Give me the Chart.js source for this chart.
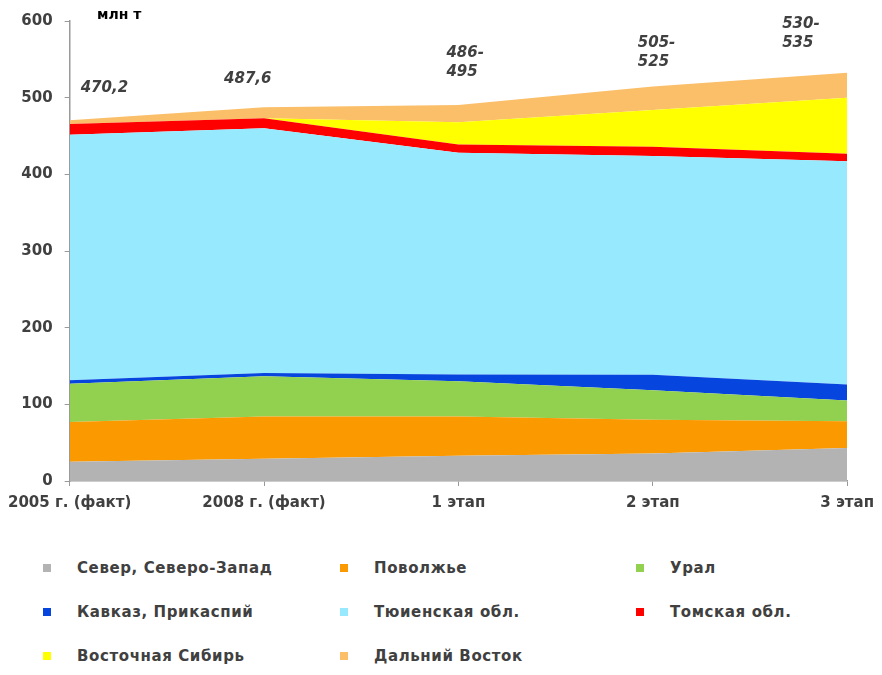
<!DOCTYPE html>
<html>
<head>
<meta charset="utf-8">
<script src="https://cdn.jsdelivr.net/npm/chart.js@4.4.1/dist/chart.umd.min.js"></script>
<style>
  body { margin: 0; background: #fff; }
  #wrap { position: relative; width: 882px; height: 675px; overflow: hidden; }
  #myChart { position: absolute; left: 0; top: 0; }
  .leg { position: absolute; font: bold 15px "DejaVu Sans", sans-serif; line-height: 16px; letter-spacing: 0.6px; color: #404040; white-space: nowrap; }
  .leg i { position: absolute; left: 0; width: 8px; height: 8px; top: 4px; }
</style>
</head>
<body>
<div id="wrap">
  <canvas id="myChart" width="882" height="530"></canvas>
  <div id="legend"></div>
</div>
<script>
const categories = ["2005 г. (факт)", "2008 г. (факт)", "1 этап", "2 этап", "3 этап"];

// млн т по регионам
const sever = [25, 29, 33, 36, 43];
const povolzhye = [52, 55, 51, 44, 35];
const ural = [50, 52.5, 46, 38.5, 27];
const kavkaz = [4.5, 4.5, 9, 20, 21];
const tyumen = [320, 319, 289, 285.5, 291];
const tomsk = [14, 13, 11, 12, 10];
const vostSibir = [0, 0, 29, 48, 73];
const dalVostok = [5, 14.5, 22.5, 30.5, 32.5];

const totals = ["470,2", "487,6", "486-\n495", "505-\n525", "530-\n535"];
const yTicks = [0, 100, 200, 300, 400, 500, 600];

const seriesNames = [
    "Север, Северо-Запад", "Поволжье", "Урал",
    "Кавказ, Прикаспий", "Тюиенская обл.", "Томская обл.",
    "Восточная Сибирь", "Дальний Восток"
];
const seriesData = [sever, povolzhye, ural, kavkaz, tyumen, tomsk, vostSibir, dalVostok];
const seriesColors = ["#b3b3b3", "#fb9900", "#92d050", "#0645de", "#97eafe", "#ff0000", "#ffff00", "#fbbf69"];

// where the total labels sit (offset from category, baseline y)
const labelDx = [11, -40, -12, -15, -65];
const labelY = [92, 83, 57, 47, 28];

const annotations = {
    id: "annotations",
    afterDraw(chart) {
        const ctx = chart.ctx;
        const x = chart.scales.x;
        ctx.save();
        ctx.fillStyle = "#404040";
        ctx.font = 'italic bold 15px "DejaVu Sans"';
        ctx.textAlign = "left";
        ctx.textBaseline = "alphabetic";
        totals.forEach((t, i) => {
            const px = x.getPixelForValue(i) + labelDx[i];
            t.split("\n").forEach((line, j) => {
                ctx.fillText(line, px, labelY[i] + j * 19);
            });
        });
        ctx.fillStyle = "#000";
        ctx.font = 'bold 14px "DejaVu Sans"';
        ctx.fillText("млн т", 97, 19);
        ctx.restore();
    }
};

let buildChart = function () {
    const ctx = document.getElementById("myChart");

    const datasets = seriesData.map((d, i) => ({
        label: seriesNames[i],
        data: d,
        backgroundColor: seriesColors[i],
        borderColor: seriesColors[i],
        borderWidth: 0,
        pointRadius: 0,
        tension: 0,
        fill: i === 0 ? "origin" : "-1",
    }));

    new Chart(ctx, {
        type: "line",
        data: { labels: categories, datasets },
        plugins: [annotations],
        options: {
            responsive: false,
            animation: false,
            layout: { padding: { top: 17, right: 0, left: 0, bottom: 0 } },
            plugins: {
                legend: { display: false },
                tooltip: { enabled: false },
            },
            scales: {
                x: {
                    offset: false,
                    grid: {
                        drawOnChartArea: false,
                        drawTicks: true,
                        tickLength: 5,
                        color: "#999",
                    },
                    border: { color: "#999", width: 1.5 },
                    ticks: {
                        color: "#404040",
                        padding: 8,
                        maxRotation: 0,
                        font: { family: "DejaVu Sans", weight: "bold", size: 15 },
                    },
                    afterFit: function (scale) {
                        scale.height = 49;
                    },
                },
                y: {
                    stacked: true,
                    min: 0,
                    max: 600,
                    afterBuildTicks: function (scale) {
                        scale.ticks = yTicks.map(v => ({ value: v }));
                    },
                    grid: {
                        drawOnChartArea: false,
                        drawTicks: true,
                        tickLength: 5,
                        color: "#999",
                    },
                    border: { color: "#999", width: 1.5 },
                    ticks: {
                        color: "#404040",
                        padding: 12,
                        font: { family: "DejaVu Sans", weight: "bold", size: 15 },
                    },
                    afterFit: function (scale) {
                        scale.width = 69;
                    },
                },
            },
        },
    });
};

let buildLegend = function () {
    const legend = document.getElementById("legend");
    const colX = [43, 340, 636];
    const rowY = [560, 604, 648];
    seriesNames.forEach((name, i) => {
        const div = document.createElement("div");
        div.className = "leg";
        div.style.left = colX[i % 3] + "px";
        div.style.top = rowY[Math.floor(i / 3)] + "px";
        div.innerHTML = '<i style="background:' + seriesColors[i] + '"></i><span style="margin-left:34px">' + name + "</span>";
        legend.appendChild(div);
    });
};

(function () {
    buildChart();
    buildLegend();
})();
</script>
</body>
</html>
